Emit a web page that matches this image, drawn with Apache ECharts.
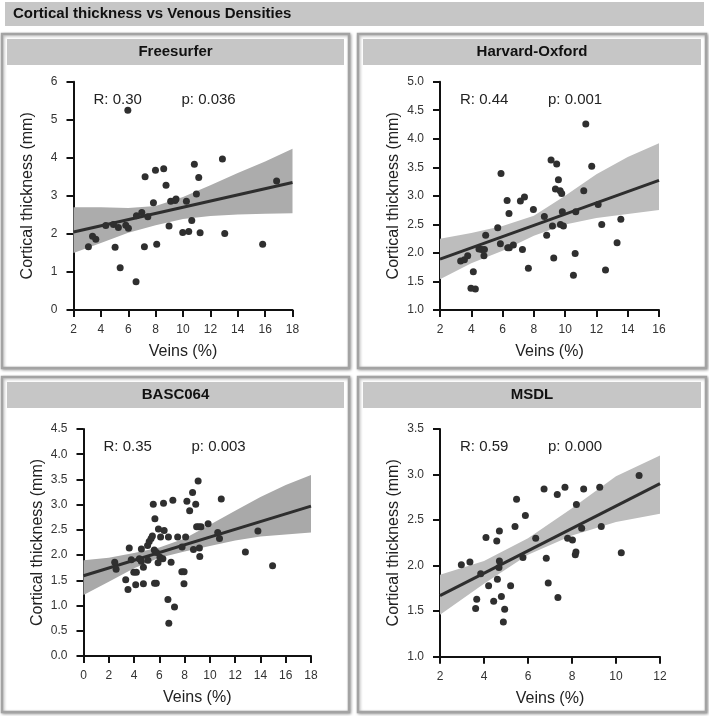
<!DOCTYPE html>
<html><head><meta charset="utf-8">
<script src="https://cdn.jsdelivr.net/npm/echarts@6/dist/echarts.min.js"></script>
<style>html,body{margin:0;padding:0;background:#fff}#c{width:709px;height:716px}</style>
</head><body><div id="c"></div>
<script>
var F = '"Liberation Sans", Arial, Helvetica, sans-serif';

var mainTitle = 'Cortical thickness vs Venous Densities';
var panelTitles = ['Freesurfer', 'Harvard-Oxford', 'BASC064', 'MSDL'];
var statR = ['R: 0.30', 'R: 0.44', 'R: 0.35', 'R: 0.59'];
var statP = ['p: 0.036', 'p: 0.001', 'p: 0.003', 'p: 0.000'];
var xName = 'Veins (%)';
var yName = 'Cortical thickness (mm)';

// Freesurfer
var fsX = [3.09,3.39,3.63,4.36,4.92,5.04,5.28,5.41,5.82,5.97,6.01,6.57,6.60,6.99,7.18,7.23,7.43,7.84,7.99,8.08,8.59,8.76,8.98,9.10,9.42,9.49,9.98,10.25,10.42,10.64,10.83,10.98,11.15,11.25,12.88,13.05,15.82,16.84];
var fsY = [1.66,1.94,1.86,2.22,2.25,1.65,2.17,1.11,2.23,5.25,2.15,0.74,2.48,2.56,1.66,3.50,2.45,2.82,3.67,1.73,3.71,3.28,2.21,2.86,2.88,2.92,2.04,2.86,2.06,2.35,3.83,3.05,3.48,2.03,3.97,2.01,1.73,3.39];
var fsLineX = [2, 18];
var fsLineY = [2.05, 3.35];
var fsBandX = [2, 4, 6, 8, 10, 12, 14, 16, 18];
var fsBandUp = [2.70, 2.70, 2.68, 2.73, 2.97, 3.28, 3.60, 3.90, 4.24];
var fsBandLo = [1.50, 1.76, 2.03, 2.23, 2.39, 2.47, 2.51, 2.53, 2.54];

// Harvard-Oxford
var hoX = [3.32,3.56,3.77,3.98,4.13,4.26,4.49,4.67,4.81,4.84,4.92,5.69,5.86,5.90,6.29,6.33,6.41,6.43,6.69,7.14,7.27,7.40,7.65,7.97,8.67,8.82,9.10,9.19,9.27,9.46,9.38,9.57,9.68,9.78,9.82,9.70,9.89,10.53,10.64,10.68,11.19,11.32,11.70,12.11,12.34,12.58,13.32,13.56];
var hoY = [1.86,1.88,1.95,1.38,1.67,1.37,2.07,2.06,1.95,2.06,2.31,2.44,2.16,3.39,2.92,2.09,2.69,2.09,2.14,2.91,2.06,2.98,1.73,2.76,2.64,2.31,3.63,2.47,1.91,3.56,3.12,3.28,3.09,3.04,2.72,2.50,2.47,1.61,1.99,2.72,3.09,4.26,3.52,2.85,2.50,1.70,2.18,2.59];
var hoLineX = [2, 16];
var hoLineY = [1.89, 3.27];
var hoBandX = [2, 4, 6, 8, 10, 12, 14, 16];
var hoBandUp = [2.25, 2.35, 2.47, 2.65, 3.00, 3.38, 3.68, 3.92];
var hoBandLo = [1.54, 1.82, 2.04, 2.30, 2.50, 2.61, 2.68, 2.75];

// BASC064
var bcX = [2.47,2.58,3.34,3.52,3.62,3.78,3.98,4.13,4.18,4.42,4.57,4.58,4.74,4.74,5.07,5.10,5.20,5.35,5.45,5.52,5.60,5.65,5.62,5.76,5.78,5.90,5.93,6.05,6.10,6.28,6.33,6.38,6.68,6.72,6.75,6.93,7.07,7.20,7.45,7.80,7.78,7.96,7.95,8.08,8.18,8.40,8.63,8.70,8.88,8.95,9.07,9.12,9.17,9.20,9.30,9.86,10.62,10.76,10.90,12.81,13.80,14.96];
var bcY = [1.86,1.72,1.51,1.32,2.14,1.91,1.66,1.41,1.66,1.93,1.88,2.12,1.76,1.43,2.19,1.90,2.27,2.33,2.38,3.01,2.10,2.72,1.44,1.44,2.05,1.85,2.52,1.96,2.36,1.93,3.03,2.49,1.12,2.36,0.65,1.86,3.09,0.97,2.36,2.16,1.67,1.67,1.43,2.36,3.07,2.88,3.24,2.11,3.01,2.56,3.47,2.56,2.14,1.97,2.56,2.62,2.45,2.33,3.11,2.06,2.48,1.79];
var bcLineX = [0, 18];
var bcLineY = [1.59, 2.97];
var bcBandX = [0, 2, 4, 6, 8, 10, 12, 14, 16, 18];
var bcBandUp = [1.90, 1.95, 2.04, 2.15, 2.33, 2.60, 2.88, 3.15, 3.39, 3.59];
var bcBandLo = [1.21, 1.47, 1.74, 1.95, 2.07, 2.18, 2.29, 2.37, 2.41, 2.45];

// MSDL
var msX = [2.97,3.36,3.62,3.67,3.85,4.09,4.21,4.44,4.58,4.61,4.70,4.70,4.68,4.79,4.88,4.94,5.21,5.41,5.48,5.77,5.88,6.35,6.73,6.83,6.92,7.33,7.36,7.68,7.80,8.02,8.15,8.18,8.20,8.44,8.53,9.26,9.33,10.24,11.05];
var msY = [2.01,2.04,1.53,1.63,1.91,2.31,1.78,1.61,2.27,1.85,2.38,2.05,1.98,1.66,1.38,1.52,1.78,2.43,2.73,2.09,2.55,2.30,2.84,2.08,1.81,2.78,1.65,2.86,2.30,2.28,2.12,2.15,2.67,2.41,2.84,2.86,2.43,2.14,2.99];
var msLineX = [2, 12];
var msLineY = [1.67, 2.90];
var msBandX = [2, 4, 6, 8, 10, 12];
var msBandUp = [1.90, 2.05, 2.30, 2.63, 2.98, 3.21];
var msBandLo = [1.46, 1.80, 2.12, 2.33, 2.48, 2.57];

// axis ranges
var xMin = [2, 2, 0, 2], xMax = [18, 16, 18, 12], xInt = [2, 2, 2, 2];
var yMin = [0, 1, 0, 1], yMax = [6, 5, 4.5, 3.5], yInt = [1, 0.5, 0.5, 0.5];

var panels = [
  {sx: fsX, sy: fsY, lx: fsLineX, ly: fsLineY, bx: fsBandX, bu: fsBandUp, bl: fsBandLo},
  {sx: hoX, sy: hoY, lx: hoLineX, ly: hoLineY, bx: hoBandX, bu: hoBandUp, bl: hoBandLo},
  {sx: bcX, sy: bcY, lx: bcLineX, ly: bcLineY, bx: bcBandX, bu: bcBandUp, bl: bcBandLo},
  {sx: msX, sy: msY, lx: msLineX, ly: msLineY, bx: msBandX, bu: msBandUp, bl: msBandLo}
];
var bandFill = ['#acacac', '#bdbdbd', '#a9a9a9', '#bdbdbd'];

// layout
var grids = [
  {left: 73.5, top: 81.7, width: 219, height: 228.3},
  {left: 440, top: 81.7, width: 219, height: 228.3},
  {left: 83.5, top: 429, width: 227.5, height: 227},
  {left: 440, top: 429, width: 220, height: 227.7}
];
var boxes = [
  {x: 2, y: 34, w: 347, h: 334},
  {x: 358, y: 34, w: 348, h: 334},
  {x: 2, y: 377, w: 347, h: 335},
  {x: 358, y: 377, w: 348, h: 335}
];

var chart = echarts.init(document.getElementById('c'), null, {renderer: 'canvas'});

var xAxes = [], yAxes = [], series = [], graphics = [];

graphics.push({type: 'rect', shape: {x: 5, y: 2, width: 699, height: 24}, style: {fill: '#c6c6c6'}, z: 0});
graphics.push({type: 'text', x: 13, y: 14, style: {text: mainTitle, font: 'bold 15px ' + F, fill: '#111', verticalAlign: 'middle'}, z: 1});

panels.forEach(function (p, i) {
  var b = boxes[i];
  graphics.push({type: 'rect', shape: {x: b.x, y: b.y, width: b.w, height: b.h}, style: {fill: '#fff', stroke: '#a3a3a3', lineWidth: 2.5, shadowBlur: 3, shadowColor: 'rgba(0,0,0,0.3)', shadowOffsetX: 1, shadowOffsetY: 1}, z: -10});
  graphics.push({type: 'rect', shape: {x: b.x + 5, y: b.y + 5, width: b.w - 10, height: 26}, style: {fill: '#c6c6c6'}, z: -9});
  graphics.push({type: 'text', x: b.x + b.w / 2, y: b.y + 18, style: {text: panelTitles[i], font: 'bold 15px ' + F, fill: '#111', align: 'center', verticalAlign: 'middle'}, z: 1});
  var g = grids[i];
  graphics.push({type: 'text', x: g.left + 20, y: g.top + 18, style: {text: statR[i], font: '15px ' + F, fill: '#222', verticalAlign: 'middle'}, z: 5});
  graphics.push({type: 'text', x: g.left + 108, y: g.top + 18, style: {text: statP[i], font: '15px ' + F, fill: '#222', verticalAlign: 'middle'}, z: 5});

  xAxes.push({
    type: 'value', gridIndex: i, min: xMin[i], max: xMax[i], interval: xInt[i],
    name: xName, nameLocation: 'middle', nameGap: 34,
    nameTextStyle: {fontSize: 16, color: '#222', fontFamily: F},
    axisLine: {show: true, onZero: false, lineStyle: {color: '#111', width: 2}},
    axisTick: {show: true, length: 7, lineStyle: {color: '#111', width: 2}},
    axisLabel: {fontSize: 12, color: '#333', margin: 14, fontFamily: F},
    splitLine: {show: false}
  });
  yAxes.push({
    type: 'value', gridIndex: i, min: yMin[i], max: yMax[i], interval: yInt[i],
    name: yName, nameLocation: 'middle', nameGap: 38,
    nameTextStyle: {fontSize: 16, color: '#222', fontFamily: F},
    axisLine: {show: true, onZero: false, lineStyle: {color: '#111', width: 2}},
    axisTick: {show: true, length: 7, lineStyle: {color: '#111', width: 2}},
    axisLabel: {fontSize: 12, color: '#333', margin: 16, fontFamily: F,
      formatter: (function (k) { return function (v) { return k === 0 ? String(v) : v.toFixed(1); }; })(i)},
    splitLine: {show: false}
  });

  (function (p, idx) {
    series.push({
      type: 'custom', xAxisIndex: idx, yAxisIndex: idx, silent: true, z: 1,
      data: p.bx.map(function (x, k) { return [x, p.bu[k], p.bl[k]]; }),
      encode: {x: 0, y: [1, 2]},
      renderItem: function (params, api) {
        if (params.dataIndex !== 0) return null;
        var pts = [];
        for (var k = 0; k < p.bx.length; k++) pts.push(api.coord([p.bx[k], p.bu[k]]));
        for (var j = p.bx.length - 1; j >= 0; j--) pts.push(api.coord([p.bx[j], p.bl[j]]));
        return {type: 'polygon', shape: {points: pts}, style: {fill: bandFill[idx]}};
      }
    });
  })(p, i);

  series.push({
    type: 'line', xAxisIndex: i, yAxisIndex: i, silent: true, z: 2,
    data: p.lx.map(function (x, k) { return [x, p.ly[k]]; }),
    symbol: 'none', lineStyle: {color: '#2e2e2e', width: 3}
  });
  series.push({
    type: 'scatter', xAxisIndex: i, yAxisIndex: i, z: 3,
    data: p.sx.map(function (x, k) { return [x, p.sy[k]]; }),
    symbolSize: 7, itemStyle: {color: '#2f2f2f', opacity: 1}
  });
});

chart.setOption({
  animation: false,
  backgroundColor: '#fff',
  grid: grids.map(function (g) { return {left: g.left, top: g.top, width: g.width, height: g.height, containLabel: false}; }),
  xAxis: xAxes,
  yAxis: yAxes,
  series: series,
  graphic: {elements: graphics}
});
</script></body></html>
